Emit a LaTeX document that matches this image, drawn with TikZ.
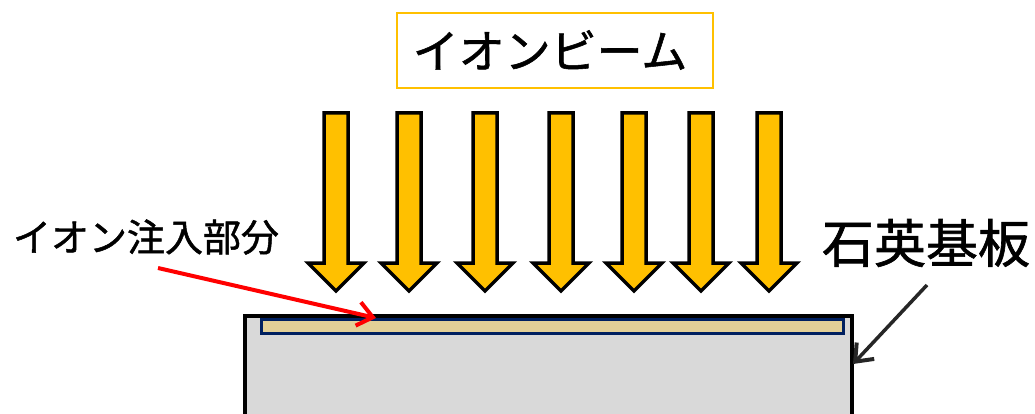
\documentclass[tikz,border=0pt]{standalone}
\usepackage{fontspec}
\newfontfamily\jpfont[FakeBold=1.2]{Noto Sans CJK JP}
\usetikzlibrary{arrows.meta}
\definecolor{beam}{HTML}{FFC000}
\definecolor{subgray}{HTML}{D9D9D9}
\definecolor{layertan}{HTML}{E3D097}
\definecolor{layernavy}{HTML}{002060}
\definecolor{ptrgray}{HTML}{262626}
\tikzset{
  beamarrow/.style={fill=beam, draw=black, line width=3.5pt, line join=miter},
  pointer/.style={line width=4pt, -{Straight Barb[length=15pt,width=24pt,line width=4pt]}},
  jplabel/.style={font=\jpfont, inner sep=0pt, text=black},
}
\begin{document}
\begin{tikzpicture}[x=1pt,y=-1pt]
\useasboundingbox (0,0) rectangle (1035,414);
% title box
\node[draw=beam, line width=2.5pt, minimum width=316pt, minimum height=75pt, inner sep=0pt] (title) at (555,50.5) {};
\node[jplabel, font=\jpfont\fontsize{46pt}{50pt}\selectfont] (titletext) at (550,50) {イオンビーム};
% beam arrows
\foreach \cx [count=\i] in {336,409,485,561,634,701,769}{
  \draw[beamarrow] (\cx-12,113) -- (\cx+12,113) -- (\cx+12,263) -- (\cx+28,263) -- (\cx,291) -- (\cx-28,263) -- (\cx-12,263) -- cycle;
  \coordinate (tip\i) at (\cx,291);
}
% substrate
\path[fill=subgray, draw=black, line width=4pt] (245,430) -- (245,316) -- (852,316) -- (852,430);
\node[fill=layertan, draw=layernavy, line width=3pt, minimum width=582pt, minimum height=14pt, inner sep=0pt, anchor=north west] (layer) at (260,318) {};
\coordinate (subright) at (853,364);
% labels
\node[jplabel, font=\jpfont\fontsize{38pt}{42pt}\selectfont] (implab) at (146,237) {イオン注入部分};
\node[jplabel, font=\jpfont\fontsize{52pt}{56pt}\selectfont] (sublab) at (926,243) {石英基板};
\coordinate (redstart) at (158,268);
\coordinate (redend) at (376,318);
\coordinate (graystart) at (927,285);
\draw[pointer, draw=red] (redstart) -- (redend);
\draw[pointer, draw=ptrgray, line width=3.5pt] (graystart) -- (subright);
\end{tikzpicture}
\end{document}
